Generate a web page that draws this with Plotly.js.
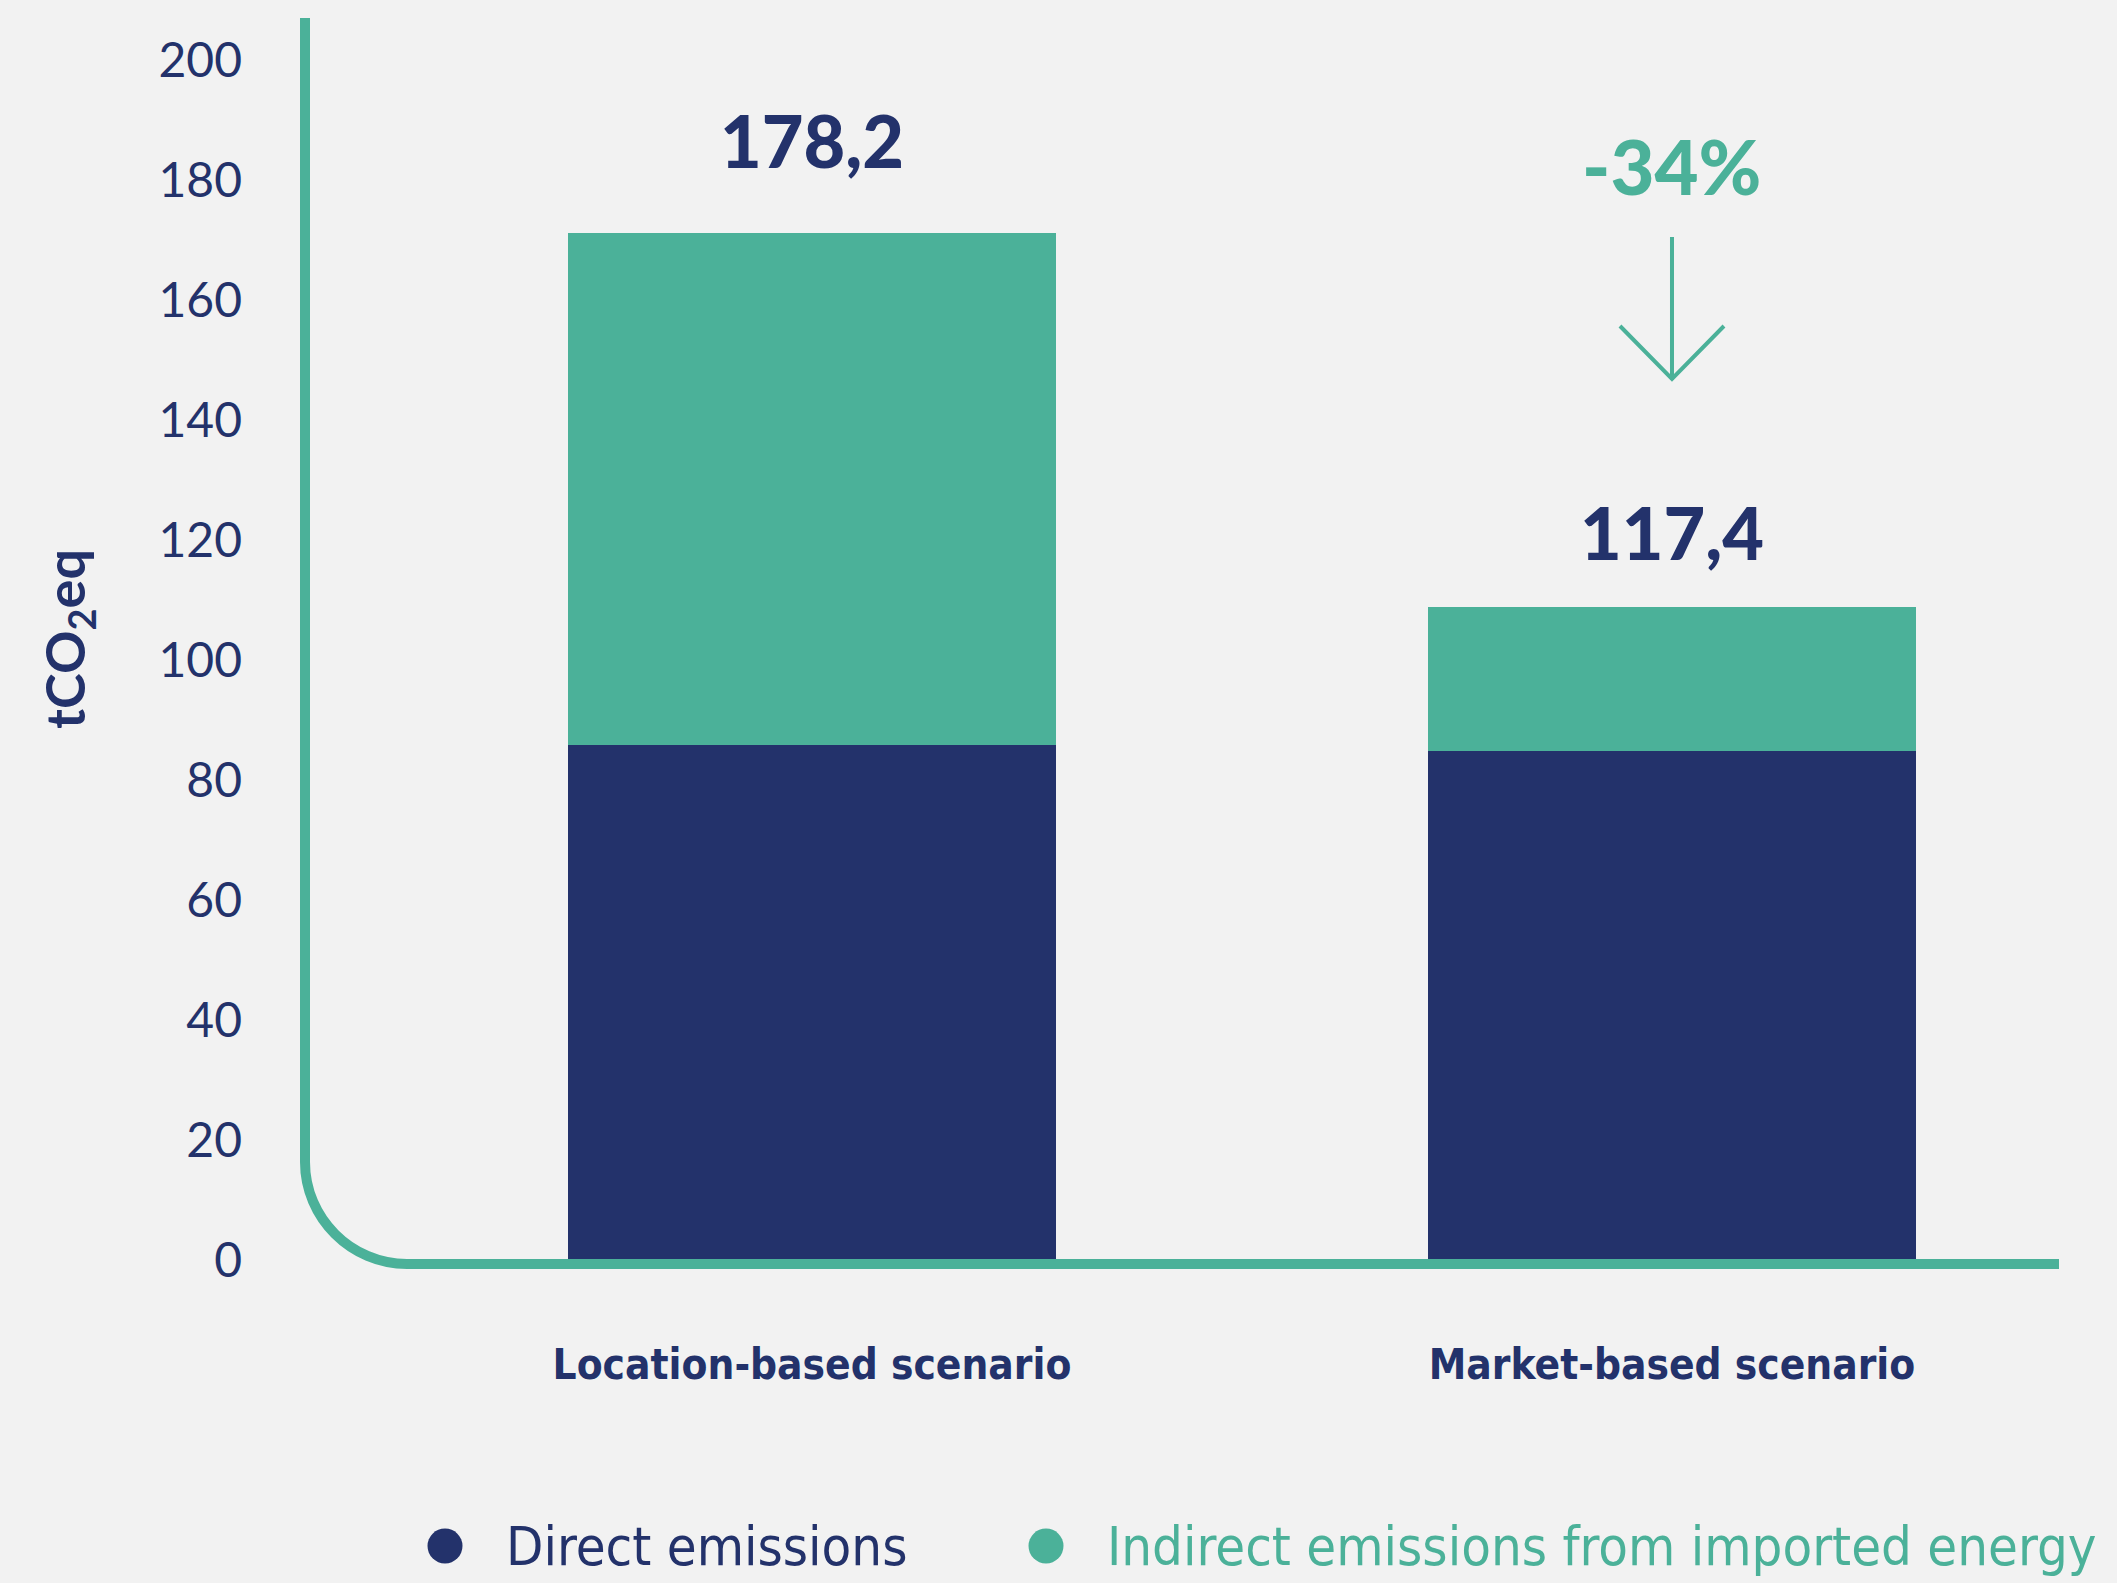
<!DOCTYPE html>
<html>
<head>
<meta charset="utf-8">
<script src="https://cdn.plot.ly/plotly-3.0.1.min.js"></script>
<style>html,body{margin:0;padding:0;background:#F2F2F2;}</style>
</head>
<body>
<div id="chart" style="width:2117px;height:1583px;"></div>
<script>
// ---- data ----
const categories = ['Location-based scenario', 'Market-based scenario'];
const directEmissions = [85.8, 84.8];
const indirectEmissions = [85.3, 24.1];
const totalLabels = ['178,2', '117,4'];
const seriesNames = ['Direct emissions', 'Indirect emissions from imported energy'];
const yTickValues = [0, 20, 40, 60, 80, 100, 120, 140, 160, 180, 200];
const changeLabel = '-34%';
const yTitle = 'tCO<sub>2</sub>eq';

// ---- style ----
const NAVY = '#23326B';
const TEAL = '#4BB199';
const BG = '#F2F2F2';
const W = 2117, H = 1583;
const M = {l: 305, r: 58, t: 18, b: 323};
const plotW = W - M.l - M.r, plotH = H - M.t - M.b;
const yMax = 207;
const xRange = [-0.5895, 1.45];
const px = x => (x - M.l) / plotW;           // pixel -> paper x
const py = y => (H - M.b - y) / plotH;       // pixel -> paper y
const unitPx = plotH / yMax;
const pixToY = y => (H - M.b - y) / unitPx;  // pixel -> data y
const narrow = '"DejaVu Sans Condensed", "DejaVu Sans", sans-serif';

const totals = directEmissions.map((d, i) => d + indirectEmissions[i]);

const traces = [
  {type: 'bar', x: categories, y: directEmissions, name: seriesNames[0],
   marker: {color: NAVY}, width: 0.567, hoverinfo: 'skip'},
  {type: 'bar', x: categories, y: indirectEmissions, name: seriesNames[1],
   marker: {color: TEAL}, width: 0.567, hoverinfo: 'skip'}
];

const labelShift = [93, 75];
const annotations = [];
categories.forEach((c, i) => {
  annotations.push({x: c, y: totals[i], xref: 'x', yref: 'y', text: totalLabels[i],
    showarrow: false, yanchor: 'middle', yshift: labelShift[i],
    font: {family: 'Lato, sans-serif', size: 72, weight: 900, color: NAVY}});
});
const mi = categories.length - 1;
annotations.push({x: categories[mi], y: pixToY(165), xref: 'x', yref: 'y', text: changeLabel,
  showarrow: false, yanchor: 'middle',
  font: {family: 'Lato, sans-serif', size: 76, weight: 900, color: TEAL}});
annotations.push({x: px(68), y: 0.5, xref: 'paper', yref: 'paper', text: yTitle,
  textangle: -90, showarrow: false, xanchor: 'center', yanchor: 'middle',
  font: {family: 'Lato, sans-serif', size: 54, weight: 700, color: NAVY}});
// legend
const legendDotX = [445, 1046];
const legendTextX = [504, 1105];
const legendColors = [NAVY, TEAL];
const legendY = 1546;
seriesNames.forEach((n, i) => {
  annotations.push({x: px(legendTextX[i]), y: py(legendY), xref: 'paper', yref: 'paper',
    text: n, showarrow: false, xanchor: 'left', yanchor: 'middle',
    font: {family: narrow, size: 54, color: legendColors[i]}});
});

const shapes = [];
// axis with rounded corner
shapes.push({type: 'path', xref: 'paper', yref: 'paper', layer: 'above',
  path: `M${px(305)},${py(18)} L${px(305)},${py(1162)} C${px(305)},${py(1218)} ${px(351)},${py(1264)} ${px(407)},${py(1264)} L${px(2059)},${py(1264)}`,
  line: {color: TEAL, width: 10}});
// down arrow (market bar)
const dx = 52 / (plotW / (xRange[1] - xRange[0]));
shapes.push({type: 'path', xref: 'x', yref: 'y', layer: 'above',
  path: `M${mi},${pixToY(237)} L${mi},${pixToY(380)} M${mi - dx},${pixToY(326)} L${mi},${pixToY(379)} L${mi + dx},${pixToY(326)}`,
  line: {color: TEAL, width: 4}});
// legend dots
legendDotX.forEach((x, i) => {
  shapes.push({type: 'circle', xref: 'paper', yref: 'paper', xsizemode: 'pixel', ysizemode: 'pixel',
    xanchor: px(x), yanchor: py(legendY), x0: -17.5, x1: 17.5, y0: -17.5, y1: 17.5,
    fillcolor: legendColors[i], line: {width: 0}});
});

const layout = {
  width: W, height: H,
  margin: M,
  paper_bgcolor: BG, plot_bgcolor: BG,
  barmode: 'stack',
  showlegend: false,
  xaxis: {type: 'category', range: xRange, showgrid: false, zeroline: false, showline: false,
    ticks: '', ticklabelstandoff: 76,
    tickfont: {family: narrow, size: 42, weight: 700, color: NAVY}},
  yaxis: {range: [0, yMax], tickvals: yTickValues, ticktext: yTickValues.map(String),
    showgrid: false, zeroline: false, showline: false, ticks: '', ticklabelstandoff: 62,
    tickfont: {family: 'Lato, sans-serif', size: 48, color: NAVY}},
  annotations: annotations,
  shapes: shapes
};

Plotly.newPlot('chart', traces, layout, {displayModeBar: false, staticPlot: true});
</script>
</body>
</html>
